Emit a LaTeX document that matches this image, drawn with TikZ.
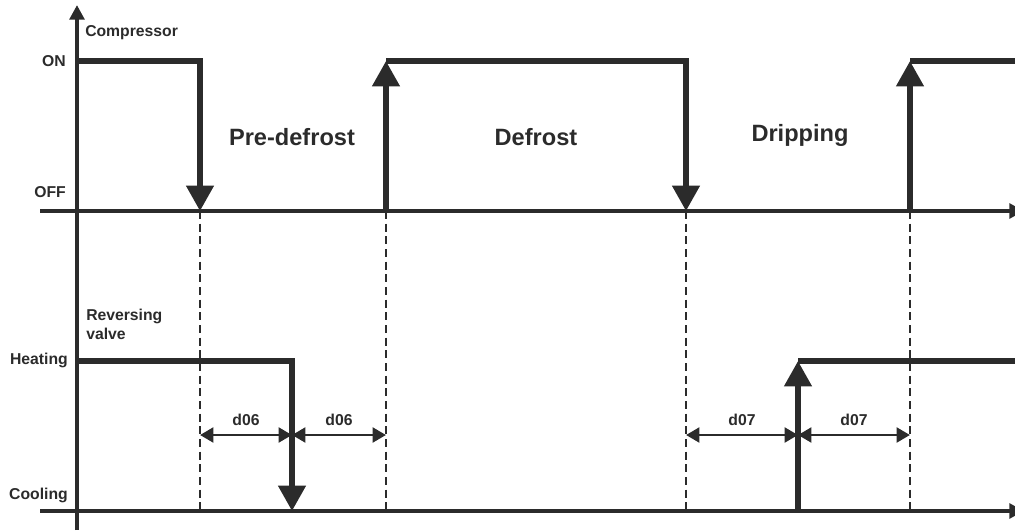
\documentclass[tikz,border=0pt]{standalone}
\usepackage{fontspec}
\setmainfont{Liberation Sans}
\usepackage{xcolor}
\usepackage{tikz}
\usetikzlibrary{arrows.meta}
\definecolor{ink}{RGB}{43,43,43}

\begin{document}
\begin{tikzpicture}[
  x=0.75pt, y=-0.75pt,
  axis/.style={draw=ink, line width=2.8pt, -{Triangle[length=11pt, width=11pt]}},
  sig/.style={draw=ink, line width=4pt},
  edge/.style={sig, -{Triangle[length=19pt, width=20pt]}},
  guide/.style={draw=ink, line width=1.2pt, dash pattern=on 6pt off 3.5pt},
  span/.style={draw=ink, line width=2.2pt,
               {Triangle[length=10pt, width=11pt]}-{Triangle[length=10pt, width=11pt]}},
  lbl/.style={font=\fontsize{11.8}{14}\selectfont\bfseries, text=ink, inner sep=0pt},
  phase/.style={font=\fontsize{17.7}{21}\selectfont\bfseries, text=ink, inner sep=0pt}
]
\useasboundingbox (0,0) rectangle (1015,532);

% levels and switching instants
\coordinate (ybot) at (77,530);
\coordinate (ytop) at (77,5);
\coordinate (off0) at (40,211);
\coordinate (off1) at (1024,211);
\coordinate (cool0) at (40,511);
\coordinate (cool1) at (1024,511);
\coordinate (on0) at (77,61);
\coordinate (heat0) at (77,361);

\coordinate (t1on) at (200,61);   \coordinate (t1off) at (200,211);  \coordinate (t1cool) at (200,511);
\coordinate (t2on) at (386,61);   \coordinate (t2off) at (386,211);  \coordinate (t2cool) at (386,511);
\coordinate (t3on) at (686,61);   \coordinate (t3off) at (686,211);  \coordinate (t3cool) at (686,511);
\coordinate (t4on) at (910,61);   \coordinate (t4off) at (910,211);  \coordinate (t4cool) at (910,511);
\coordinate (on1) at (1015,61);

\coordinate (v1cool) at (292,511);
\coordinate (v2heat) at (798,361); \coordinate (v2cool) at (798,511);
\coordinate (heat1) at (1015,361);

% axes
\draw[axis] (ybot) -- (ytop);
\draw[axis] (off0) -- (off1);
\draw[axis] (cool0) -- (cool1);

% dashed guides
\draw[guide] (t1off) -- (t1cool);
\draw[guide] (t2off) -- (t2cool);
\draw[guide] (t3off) -- (t3cool);
\draw[guide] (t4off) -- (t4cool);

% compressor
\draw[edge] (on0) -| (t1off);
\draw[edge] (t2off) -- (t2on);
\draw[edge] (t2on) -| (t3off);
\draw[edge] (t4off) -- (t4on);
\draw[sig] (t4on) -- (on1);

% reversing valve
\draw[edge] (heat0) -| (v1cool);
\draw[edge] (v2cool) -- (v2heat);
\draw[sig] (v2heat) -- (heat1);

% delays
\coordinate (s1) at (200,435); \coordinate (s2) at (292,435); \coordinate (s3) at (386,435);
\coordinate (s4) at (686,435); \coordinate (s5) at (798,435); \coordinate (s6) at (910,435);
\draw[span] (s1) -- node[lbl, above=6pt] (d06a) {d06} (s2);
\draw[span] (s2) -- node[lbl, above=6pt] (d06b) {d06} (s3);
\draw[span] (s4) -- node[lbl, above=6pt] (d07a) {d07} (s5);
\draw[span] (s5) -- node[lbl, above=6pt] (d07b) {d07} (s6);

% labels
\node[lbl, anchor=west] (comp) at (85,33) {Compressor};
\node[lbl, anchor=east] (on) at (66,61) {ON};
\node[lbl, anchor=east] (off) at (66,192) {OFF};
\node[lbl, anchor=north west, align=left] (valve) at (86,309) {Reversing\\valve};
\node[lbl, anchor=east] (heat) at (68,360) {Heating};
\node[lbl, anchor=east] (cool) at (68,495) {Cooling};

\node[phase] (pre) at (292,137) {Pre-defrost};
\node[phase] (def) at (536,137) {Defrost};
\node[phase] (drip) at (800,135) {Dripping};
\end{tikzpicture}
\end{document}
